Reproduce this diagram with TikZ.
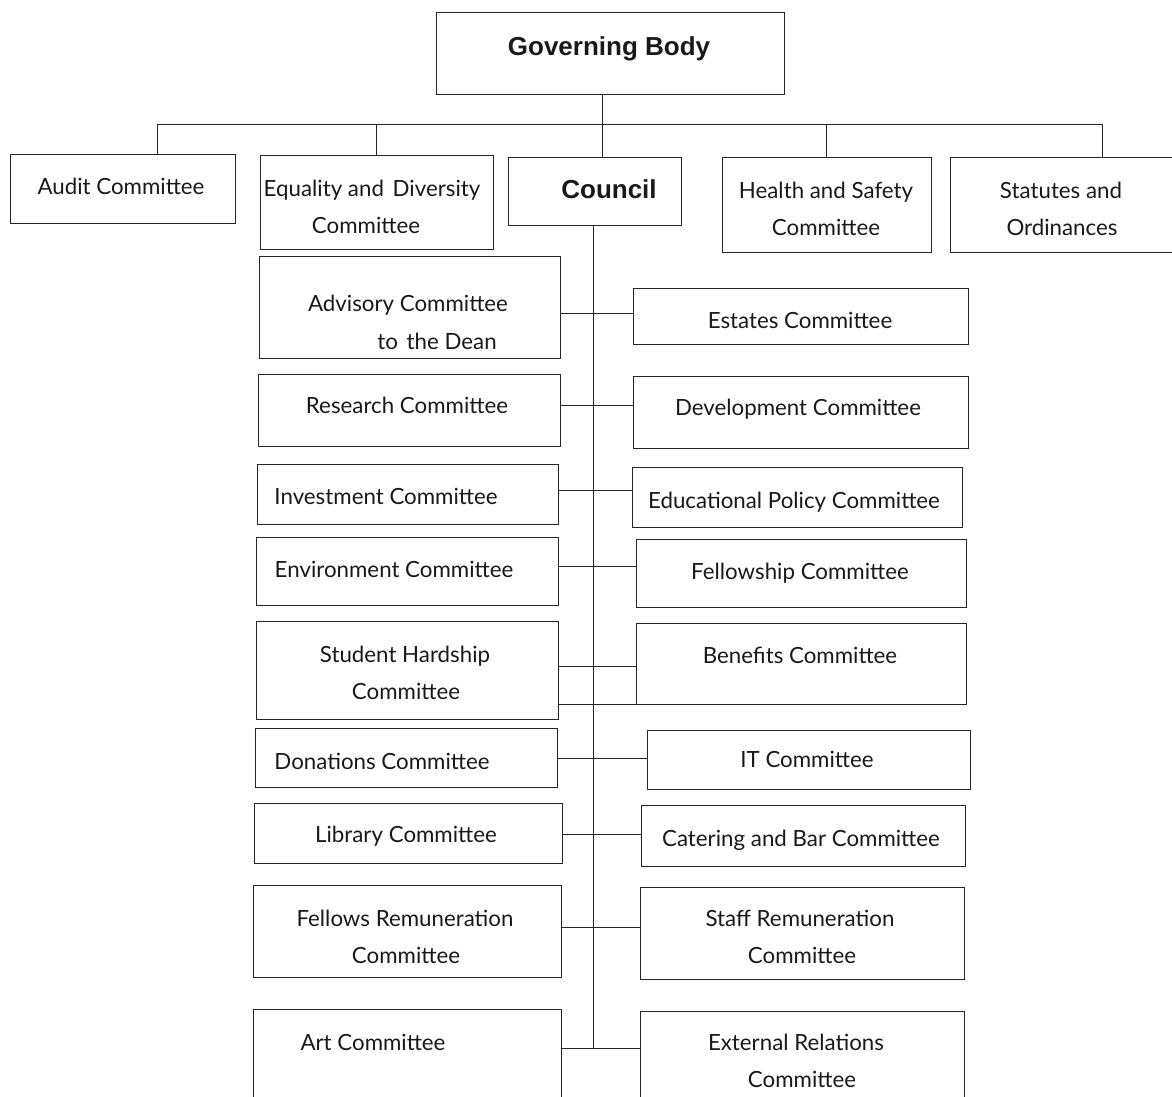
\documentclass[tikz,border=0pt]{standalone}
\usepackage{fontspec}
\setmainfont{Lato}
\newfontfamily\hdfont{Liberation Sans}
\tikzset{
  box/.style={draw=black!85,line width=1pt,rectangle,inner sep=0pt,outer sep=0pt},
  txt/.style={inner sep=0pt,font=\fontsize{22.3}{26}\selectfont,text height=16pt,text depth=0pt,text=black!90},
  hd/.style={inner sep=0pt,font=\hdfont\bfseries\fontsize{26}{30}\selectfont,text height=18.6pt,text depth=0pt,text=black!90},
  ln/.style={draw=black!85,line width=1pt}
}
\newcommand\bx[5]{\node[box,minimum width={#4-#2},minimum height={#5-#3}] (#1) at ({(#2+#4)/2},{-(#3+#5)/2}) {};}
\newcommand\tx[4]{\node[txt] (#1) at (#2,-#3) {#4};}
\begin{document}
\begin{tikzpicture}[x=1pt,y=1pt]
\useasboundingbox (0,0) rectangle (1172,-1097);
% top level boxes
\bx{gb}{436}{13}{784}{95}
\bx{audit}{10}{154}{235}{223}
\bx{eq}{260}{155}{493}{249}
\bx{council}{508}{157}{681}{225}
\bx{hs}{722}{157}{931}{252}
\bx{stat}{950}{157}{1176}{252}
% left column
\bx{adv}{259}{256}{560}{358}
\bx{res}{258}{374}{560}{446}
\bx{inv}{257}{464}{558}{524}
\bx{env}{256}{537}{558}{605}
\bx{stu}{256}{621}{558}{719}
\bx{don}{255}{728}{557}{787}
\bx{lib}{254}{803}{562}{863}
\bx{fel}{253}{885}{561}{977}
\bx{art}{253}{1009}{561}{1110}
% right column
\bx{est}{633}{288}{968}{344}
\bx{dev}{633}{376}{968}{448}
\bx{edu}{632}{467}{962}{527}
\bx{fsh}{636}{539}{966}{607}
\bx{ben}{636}{623}{966}{704}
\bx{it}{647}{730}{970}{789}
\bx{cat}{641}{805}{965}{866}
\bx{staff}{640}{887}{964}{979}
\bx{ext}{640}{1011}{964}{1110}
% texts
\node[hd] (t-gb) at (609,-46) {Governing Body};
\node[hd] (t-council) at (609,-189) {Council};
\tx{t-audit}{121}{186}{Audit Committee}
\tx{t-eq1}{372}{188}{Equality and\hspace{3pt} Diversity}
\tx{t-eq2}{366}{225}{Committee}
\tx{t-hs1}{826}{190}{Health and Safety}
\tx{t-hs2}{826}{227}{Committee}
\tx{t-st1}{1061}{190}{Statutes and}
\tx{t-st2}{1062}{227}{Ordinances}
\tx{t-adv1}{408}{303}{Advisory Committee}
\tx{t-adv2}{437}{341}{to\hspace{3pt} the Dean}
\tx{t-est}{800}{320}{Estates Committee}
\tx{t-res}{407}{405}{Research Committee}
\tx{t-dev}{798}{407}{Development Committee}
\tx{t-inv}{386}{496}{Investment Committee}
\tx{t-edu}{794}{500}{Educational Policy Committee}
\tx{t-env}{394}{569}{Environment Committee}
\tx{t-fsh}{800}{571}{Fellowship Committee}
\tx{t-stu1}{405}{654}{Student Hardship}
\tx{t-stu2}{406}{691}{Committee}
\tx{t-ben}{800}{655}{Benefits Committee}
\tx{t-don}{382}{761}{Donations Committee}
\tx{t-it}{807}{759}{IT Committee}
\tx{t-lib}{406}{834}{Library Committee}
\tx{t-cat}{801}{838}{Catering and Bar Committee}
\tx{t-fel1}{405}{918}{Fellows Remuneration}
\tx{t-fel2}{406}{955}{Committee}
\tx{t-staff1}{800}{918}{Staff Remuneration}
\tx{t-staff2}{802}{955}{Committee}
\tx{t-art}{373}{1042}{Art Committee}
\tx{t-ext1}{796}{1042}{External Relations}
\tx{t-ext2}{802}{1079}{Committee}
% top connectors
\coordinate (hl) at (157,-124.5);
\coordinate (hr) at (1102,-124.5);
\draw[ln] (hl) -- (hr);
\draw[ln] (gb.south -| 602,0) -- (council.north -| 602,0);
\draw[ln] (hl) -- (audit.north -| hl);
\draw[ln] (376,-124.5) -- (eq.north -| 376,0);
\draw[ln] (826,-124.5) -- (hs.north -| 826,0);
\draw[ln] (hr) -- (stat.north -| hr);
% spine
\coordinate (spend) at (593,-1048);
\draw[ln] (council.south -| spend) -- (spend);
% side connectors
\draw[ln] (adv.east |- 0,-313) -- (est.west |- 0,-313);
\draw[ln] (res.east |- 0,-405) -- (dev.west |- 0,-405);
\draw[ln] (inv.east |- 0,-490) -- (edu.west |- 0,-490);
\draw[ln] (env.east |- 0,-566) -- (fsh.west |- 0,-566);
\draw[ln] (stu.east |- 0,-666) -- (ben.west |- 0,-666);
\draw[ln] (stu.east |- ben.south west) -- (ben.south west);
\draw[ln] (don.east |- 0,-758) -- (it.west |- 0,-758);
\draw[ln] (lib.east |- 0,-834) -- (cat.west |- 0,-834);
\draw[ln] (fel.east |- 0,-927) -- (staff.west |- 0,-927);
\draw[ln] (art.east |- 0,-1048) -- (ext.west |- 0,-1048);
\end{tikzpicture}
\end{document}
